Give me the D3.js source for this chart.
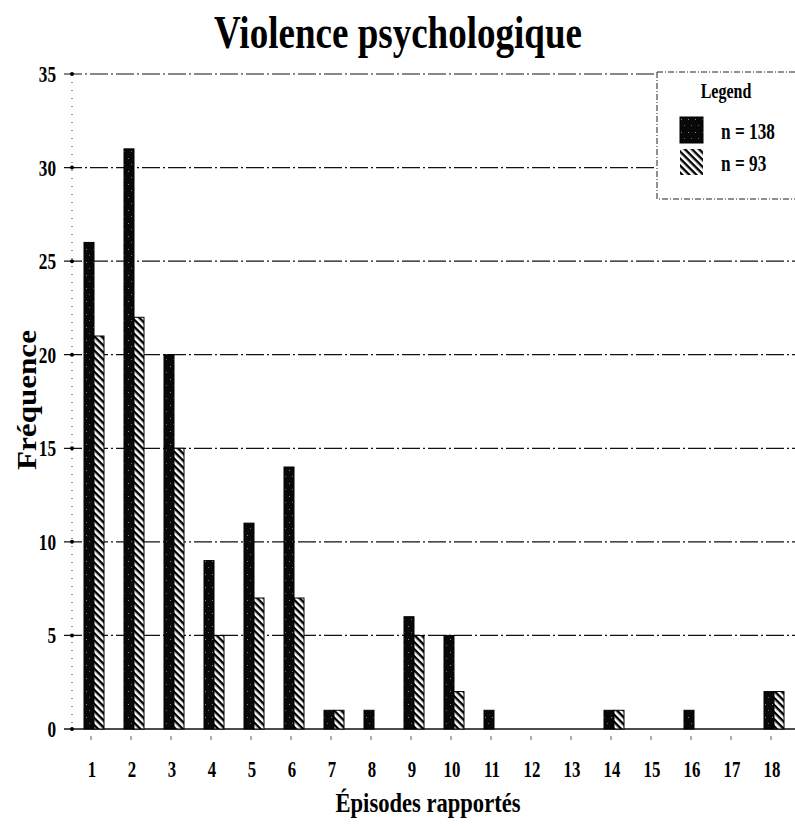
<!DOCTYPE html>
<html><head><meta charset="utf-8">
<script src="https://cdn.jsdelivr.net/npm/d3@7"></script>
<style>body{margin:0;background:#fff}svg{display:block}</style>
</head><body>
<script>
const categories = ["1","2","3","4","5","6","7","8","9","10","11","12","13","14","15","16","17","18"];
const seriesNames = ["n = 138","n = 93"];
const series138 = [26,31,20,9,11,14,1,1,6,5,1,0,0,1,0,1,0,2];
const series93  = [21,22,15,5,7,7,1,0,5,2,0,0,0,1,0,0,0,2];
const yTicks = [0,5,10,15,20,25,30,35];

const W=795,H=826;
const svg=d3.select("body").append("svg").attr("width",W).attr("height",H);
const defs=svg.append("defs");
const hatch=defs.append("pattern").attr("id","hatch").attr("patternUnits","userSpaceOnUse")
  .attr("width",5).attr("height",5).attr("patternTransform","rotate(45)");
hatch.append("rect").attr("width",5).attr("height",5).attr("fill","#fff");
hatch.append("rect").attr("width",5).attr("height",2.4).attr("fill","#000");
const dark=defs.append("pattern").attr("id","dark").attr("patternUnits","userSpaceOnUse")
  .attr("width",7).attr("height",13);
dark.append("rect").attr("width",7).attr("height",13).attr("fill","#080808");
dark.append("rect").attr("x",2).attr("y",2).attr("width",1).attr("height",1).attr("fill","#888");
dark.append("rect").attr("x",5).attr("y",8).attr("width",1).attr("height",1).attr("fill","#666");

const m={l:72,r:792,t:74,b:729};
const y=d3.scaleLinear().domain([0,35]).range([m.b,m.t]);
const x=d3.scaleBand().domain(categories).range([m.l+2,m.r+2]).paddingInner(0.5).paddingOuter(0.25);
const xs=d3.scaleBand().domain([0,1]).range([0,x.bandwidth()]);

const serif="'Liberation Serif','DejaVu Serif',serif";

// gridlines
svg.append("g").selectAll("line").data(yTicks).join("line")
  .attr("x1",m.l-8).attr("x2",W).attr("y1",d=>y(d)).attr("y2",d=>y(d))
  .attr("stroke","#111").attr("stroke-width",d=>d===0?1.6:1.2)
  .attr("stroke-dasharray",d=>d===0?null:"18,3,2,3");
// left axis dotted
svg.append("line").attr("x1",m.l).attr("x2",m.l).attr("y1",m.t).attr("y2",m.b)
  .attr("stroke","#333").attr("stroke-width",1).attr("stroke-dasharray","1,7");
svg.append("g").selectAll("circle").data(yTicks).join("circle")
  .attr("cx",m.l).attr("cy",d=>y(d)).attr("r",2).attr("fill","#000");

// y tick labels (condensed)
svg.append("g").selectAll("text").data(yTicks).join("text")
  .attr("transform",d=>`translate(${m.l-16},${y(d)+8}) scale(0.75,1)`).attr("text-anchor","end")
  .attr("font-family",serif).attr("font-weight","bold").attr("font-size",23).text(d=>d);

// bars
const data=categories.map((c,i)=>({c,v:[series138[i],series93[i]]}));
const g=svg.append("g");
data.forEach(d=>{
  d.v.forEach((v,k)=>{
    if(v<=0) return;
    g.append("rect").attr("x",x(d.c)+xs(k)).attr("width",xs.bandwidth())
      .attr("y",y(v)).attr("height",y(0)-y(v))
      .attr("fill",k===0?"url(#dark)":"url(#hatch)")
      .attr("stroke","#000").attr("stroke-width",1);
  });
});

// x tick labels
svg.append("g").selectAll("text").data(categories).join("text")
  .attr("transform",d=>`translate(${x(d)+x.bandwidth()/2-2},777) scale(0.7,1)`).attr("text-anchor","middle")
  .attr("font-family",serif).attr("font-weight","bold").attr("font-size",24).text(d=>d);
// small x ticks
svg.append("g").selectAll("line").data(categories).join("line")
  .attr("x1",d=>x(d)+x.bandwidth()/2-3).attr("x2",d=>x(d)+x.bandwidth()/2-3)
  .attr("y1",m.b+7).attr("y2",m.b+11).attr("stroke","#555").attr("stroke-width",1);

// title
svg.append("text").attr("x",398).attr("y",48).attr("text-anchor","middle")
  .attr("font-family",serif).attr("font-weight","bold").attr("font-size",46)
  .attr("textLength",368).attr("lengthAdjust","spacingAndGlyphs").text("Violence psychologique");
// x label
svg.append("text").attr("x",428).attr("y",812).attr("text-anchor","middle")
  .attr("font-family",serif).attr("font-weight","bold").attr("font-size",28)
  .attr("textLength",185).attr("lengthAdjust","spacingAndGlyphs").text("Épisodes rapportés");
// y label
svg.append("text").attr("transform","translate(36,400) rotate(-90)").attr("text-anchor","middle")
  .attr("font-family",serif).attr("font-weight","bold").attr("font-size",28)
  .attr("textLength",140).attr("lengthAdjust","spacingAndGlyphs").text("Fréquence");

// legend
const lg=svg.append("g");
lg.append("rect").attr("x",657).attr("y",72).attr("width",140).attr("height",127)
  .attr("fill","#fff").attr("stroke","#222").attr("stroke-width",1).attr("stroke-dasharray","6,2,1,2");
lg.append("text").attr("transform","translate(726,98) scale(0.8,1)").attr("text-anchor","middle")
  .attr("font-family",serif).attr("font-weight","bold").attr("font-size",20).text("Legend");
seriesNames.forEach((s,i)=>{
  lg.append("rect").attr("x",680).attr("y",117+i*32).attr("width",23).attr("height",26)
    .attr("fill",i===0?"url(#dark)":"url(#hatch)").attr("stroke",i===0?"#000":"none");
  lg.append("text").attr("transform",`translate(721,${139+i*32}) scale(0.75,1)`)
    .attr("font-family",serif).attr("font-weight","bold").attr("font-size",23).text(s);
});
</script>
</body></html>
